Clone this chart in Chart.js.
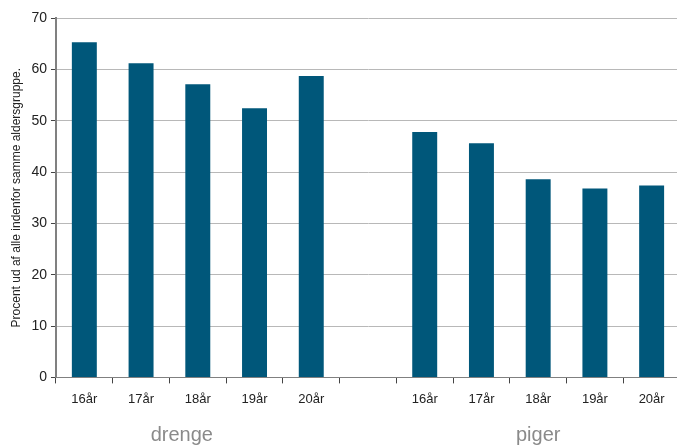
<!DOCTYPE html>
<html>
<head>
<meta charset="utf-8">
<script src="https://cdn.jsdelivr.net/npm/chart.js@4"></script>
<style>
  html, body { margin: 0; padding: 0; background: #fff; overflow: hidden; }
  #wrap { width: 690px; height: 446px; }
</style>
</head>
<body>
<div id="wrap"><canvas id="chart"></canvas></div>
<script>
const ageLabels = ['16år', '17år', '18år', '19år', '20år', '', '16år', '17år', '18år', '19år', '20år'];
const values = [65.3, 61.2, 57.1, 52.4, 58.7, null, 47.8, 45.6, 38.6, 36.8, 37.4];
const groups = [
    { name: 'drenge', from: 0, to: 4 },
    { name: 'piger', from: 6, to: 10 }
];
const yTitle = 'Procent ud af alle indenfor samme aldersgruppe.';

const font = "'Liberation Sans', Arial, sans-serif";

// group names under the age labels
const groupLabels = {
    id: 'groupLabels',
    afterDraw(c) {
        const x = c.scales.x;
        const ctx = c.ctx;
        ctx.save();
        ctx.font = "20px 'Liberation Sans', Arial, sans-serif";
        ctx.fillStyle = '#8a8a8a';
        ctx.textAlign = 'center';
        ctx.textBaseline = 'middle';
        groups.forEach((g, i) => {
            let cx = (x.getPixelForValue(g.from) + x.getPixelForValue(g.to)) / 2;
            if (i === 0) cx -= 16;
            ctx.fillText(g.name, cx, 435);
        });
        ctx.restore();
    }
};

chart = new Chart(document.getElementById('chart'), {
    type: 'bar',
    data: {
        labels: ageLabels,
        datasets: [{
            data: values,
            backgroundColor: '#00577a',
            barPercentage: 0.44,
            categoryPercentage: 1
        }]
    },
    options: {
        responsive: true,
        maintainAspectRatio: false,
        animation: false,
        layout: { padding: { top: 18, bottom: 31, left: 9, right: 10 } },
        plugins: { legend: { display: false }, tooltip: { enabled: false } },
        scales: {
            x: {
                grid: {
                    offset: true,
                    drawOnChartArea: false,
                    color: '#444',
                    tickLength: 6
                },
                border: { color: '#808080', width: 1 },
                ticks: { color: '#222', font: { family: font, size: 13 }, padding: 8, maxRotation: 0 }
            },
            y: {
                min: 0,
                max: 70,
                ticks: { stepSize: 10, color: '#222', font: { family: font, size: 14 }, padding: 4 },
                grid: { color: '#b8b8b8', tickColor: '#444', tickLength: 5 },
                border: { color: '#808080', width: 2 },
                title: {
                    display: true,
                    text: yTitle,
                    color: '#222',
                    font: { family: font, size: 12 },
                    padding: { top: 0, bottom: 4 }
                }
            }
        }
    },
    plugins: [groupLabels]
});
</script>
</body>
</html>
